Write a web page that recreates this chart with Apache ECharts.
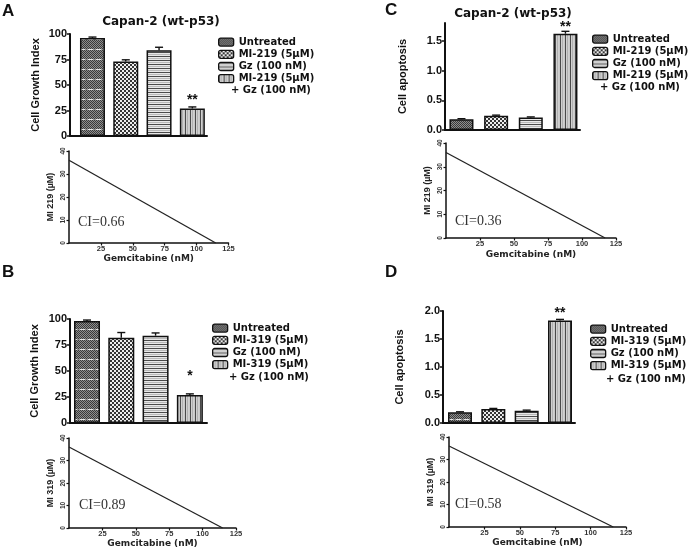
<!DOCTYPE html>
<html><head><meta charset="utf-8">
<script src="https://cdn.jsdelivr.net/npm/echarts@6/dist/echarts.min.js"></script>
<style>html,body{margin:0;padding:0;background:#fff}#c{width:689px;height:551px}</style>
</head><body><div id="c"></div>
<script>
// ---------------- data ----------------
const cellLine = 'Capan-2 (wt-p53)';
const panelLetters = ['A', 'B', 'C', 'D'];
const treatments219 = ['Untreated', 'MI-219 (5µM)', 'Gz (100 nM)', 'MI-219 (5µM) + Gz (100 nM)'];
const treatments319 = ['Untreated', 'MI-319 (5µM)', 'Gz (100 nM)', 'MI-319 (5µM) + Gz (100 nM)'];
const growthA = [96, 73, 84, 27];
const growthErrA = [1, 1.7, 3, 1.5];
const growthB = [98, 82, 84, 27];
const growthErrB = [1, 5, 2.6, 1];
const apoptosisC = [0.18, 0.24, 0.21, 1.62];
const apoptosisErrC = [0.01, 0.01, 0.01, 0.04];
const apoptosisD = [0.19, 0.25, 0.22, 1.83];
const apoptosisErrD = [0.01, 0.01, 0.01, 0.02];
const significance = ['**', '*', '**', '**'];
const gemcitabineA = [0, 115];  const mdm2iA = [36, 0];
const gemcitabineB = [0, 115];  const mdm2iB = [36, 0];
const gemcitabineC = [0, 117];  const mdm2iC = [36, 0];
const gemcitabineD = [0, 116];  const mdm2iD = [36, 0];
const ciValues = ['0.66', '0.89', '0.36', '0.58'];
const growthTicks = [0, 25, 50, 75, 100];
const apoptosisTicks = [0, 0.5, 1.0, 1.5];
const apoptosisTicksD = [0, 0.5, 1.0, 1.5, 2.0];
const gemTicks = [0, 25, 50, 75, 100, 125];
const doseTicks = [0, 10, 20, 30, 40];
const barYNames = ['Cell Growth Index', 'Cell Growth Index', 'Cell apoptosis', 'Cell apoptosis'];
const lineYNames = ['MI 219 (µM)', 'MI 319 (µM)', 'MI 219 (µM)', 'MI 319 (µM)'];
const lineXName = 'Gemcitabine (nM)';

// ---------------- patterns ----------------
function pattern(w, h, draw) {
  const c = document.createElement('canvas'); c.width = w; c.height = h;
  const g = c.getContext('2d'); draw(g); return { image: c, repeat: 'repeat' };
}
const patUntreated = pattern(8, 10, g => {
  g.fillStyle = '#8e8e8e'; g.fillRect(0, 0, 8, 10);
  g.fillStyle = '#3a3a3a';
  for (let y = 0; y < 9; y++) for (let x = 0; x < 8; x++) if ((x + y) % 2 === 0) g.fillRect(x, y, 1, 1);
  g.fillStyle = '#e6e6e6'; g.fillRect(0, 9, 5, 1);
});
const patMI = pattern(4, 4, g => {
  g.fillStyle = '#353535'; g.fillRect(0, 0, 4, 4);
  g.fillStyle = '#eeeeee'; g.fillRect(0, 0, 2, 2); g.fillRect(2, 2, 2, 2);
});
const patGz = pattern(1, 4, g => {
  const cols = ['#4a4a4a', '#e8e8e8', '#b8b8b8', '#e8e8e8'];
  cols.forEach((c, i) => { g.fillStyle = c; g.fillRect(0, i, 1, 1); });
});
const patCombo = pattern(5, 1, g => {
  const cols = ['#4a4a4a', '#d0d0d0', '#b0b0b0', '#d0d0d0', '#c8c8c8'];
  cols.forEach((c, i) => { g.fillStyle = c; g.fillRect(i, 0, 1, 1); });
});
const patterns = [patUntreated, patMI, patGz, patCombo];

// ---------------- layout ----------------
const FONT = 'Liberation Sans, Arial, sans-serif';
const WIDE = 'DejaVu Sans, Liberation Sans, sans-serif';
const SERIF = 'Liberation Serif, Times New Roman, serif';
const barPanels = [
  { names: treatments219, vals: growthA, errs: growthErrA, grid: { left: 70, top: 34, width: 137, height: 102 }, xr: [0.325, 4.44], ymax: 100, ticks: growthTicks, fmt: v => String(v), nameGap: 29, starDist: 1, barW: 25, legend: [218, 36], cont: [231, 90] },
  { names: treatments319, vals: growthB, errs: growthErrB, grid: { left: 70, top: 319, width: 137, height: 104 }, xr: [0.504, 4.5], ymax: 100, ticks: growthTicks, fmt: v => String(v), nameGap: 30, starDist: 12, barW: 26, legend: [212, 322], cont: [229, 377] },
  { names: treatments219, vals: apoptosisC, errs: apoptosisErrC, grid: { left: 445, top: 23, width: 135, height: 107 }, xr: [0.525, 4.42], ymax: 1.8, ticks: apoptosisTicks, fmt: v => v.toFixed(1), nameGap: 37, starDist: 0, barW: 24, legend: [592, 33], cont: [600, 87] },
  { names: treatments319, vals: apoptosisD, errs: apoptosisErrD, grid: { left: 443, top: 311, width: 132, height: 112 }, xr: [0.49, 4.45], ymax: 2.0, ticks: apoptosisTicksD, fmt: v => v.toFixed(1), nameGap: 38, starDist: 0, barW: 24, legend: [590, 323], cont: [606, 379] }
];
const linePanels = [
  { gem: gemcitabineA, dose: mdm2iA, grid: { left: 69, top: 151, width: 159.5, height: 92 }, ci: [78, 222], xGap: 10 },
  { gem: gemcitabineB, dose: mdm2iB, grid: { left: 69, top: 438, width: 167, height: 90 }, ci: [79, 505], xGap: 11 },
  { gem: gemcitabineC, dose: mdm2iC, grid: { left: 446, top: 143, width: 170, height: 95 }, ci: [455, 221], xGap: 12 },
  { gem: gemcitabineD, dose: mdm2iD, grid: { left: 449, top: 437, width: 177, height: 90 }, ci: [455, 504], xGap: 10 }
];

const grids = [], xAxes = [], yAxes = [], series = [], legends = [], graphics = [];
const axisLineStyle = w => ({ show: true, lineStyle: { color: '#111', width: w } });

barPanels.forEach((p, i) => {
  const gi = grids.length;
  grids.push(Object.assign({ containLabel: false }, p.grid));
  xAxes.push({ type: 'value', gridIndex: gi, min: p.xr[0], max: p.xr[1], axisLine: axisLineStyle(2), axisTick: { show: false }, axisLabel: { show: false }, splitLine: { show: false } });
  yAxes.push({ type: 'value', gridIndex: gi, min: 0, max: p.ymax, name: barYNames[i], nameLocation: 'middle', nameGap: p.nameGap,
    nameTextStyle: { fontFamily: FONT, fontSize: 11, fontWeight: 'bold', color: '#111' },
    axisLine: axisLineStyle(2), axisTick: { show: true, length: 3, lineStyle: { width: 1.5, color: '#111' }, customValues: p.ticks },
    axisLabel: { fontFamily: FONT, fontSize: 11, fontWeight: 'bold', color: '#111', margin: 3, customValues: p.ticks, formatter: p.fmt },
    splitLine: { show: false } });
  p.names.forEach((nm, k) => {
    const s = { type: 'bar', name: nm, xAxisIndex: gi, yAxisIndex: gi, barWidth: p.barW, barGap: '-100%',
      data: [[k + 1, p.vals[k]]], itemStyle: { color: patterns[k], borderColor: '#111', borderWidth: 1.5 }, z: 2 };
    if (k === 3) s.label = { show: true, position: 'top', distance: p.starDist, formatter: () => significance[i], fontFamily: FONT, fontSize: 14, fontWeight: 'bold', color: '#111' };
    series.push(s);
  });
  series.push({ type: 'custom', xAxisIndex: gi, yAxisIndex: gi, z: 3,
    data: p.vals.map((v, k) => [k + 1, v, p.errs[k]]),
    renderItem: (params, api) => {
      const x = api.value(0), v = api.value(1), e = api.value(2);
      const base = api.coord([x, v]), top = api.coord([x, v + e]);
      const st = { stroke: '#111', lineWidth: 1.4 };
      return { type: 'group', children: [
        { type: 'line', shape: { x1: base[0], y1: base[1], x2: top[0], y2: top[1] }, style: st },
        { type: 'line', shape: { x1: top[0] - 4, y1: top[1], x2: top[0] + 4, y2: top[1] }, style: st }
      ] };
    } });
  legends.push({ orient: 'vertical', left: p.legend[0], top: p.legend[1], padding: 0, itemWidth: 15, itemHeight: 8, itemGap: 0, icon: 'roundRect',
    selectedMode: false, data: p.names, formatter: n => n.split(' + ')[0],
    itemStyle: { borderColor: '#111', borderWidth: 1.3 },
    textStyle: { fontFamily: WIDE, fontSize: 10, fontWeight: 'bold', color: '#111', lineHeight: 12.2 } });
  graphics.push({ type: 'text', x: p.cont[0], y: p.cont[1], style: { text: '+ ' + p.names[3].split(' + ')[1], font: 'bold 10px ' + WIDE, fill: '#111', verticalAlign: 'middle' } });
});

linePanels.forEach((p, i) => {
  const gi = grids.length;
  grids.push(Object.assign({ containLabel: false }, p.grid));
  xAxes.push({ type: 'value', gridIndex: gi, min: 0, max: 125, interval: 25, name: lineXName, nameLocation: 'middle', nameGap: p.xGap,
    nameTextStyle: { fontFamily: WIDE, fontSize: 9, fontWeight: 'bold', color: '#222' },
    axisLine: axisLineStyle(1.5), axisTick: { show: true, length: 2.5, lineStyle: { color: '#111', width: 1.2 } },
    axisLabel: { fontFamily: FONT, fontSize: 7.5, fontWeight: 'bold', color: '#333', margin: 2, showMinLabel: false },
    splitLine: { show: false } });
  yAxes.push({ type: 'value', gridIndex: gi, min: 0, max: 40, interval: 10, name: lineYNames[i], nameLocation: 'middle', nameGap: 14,
    nameTextStyle: { fontFamily: FONT, fontSize: 9, fontWeight: 'bold', color: '#222' },
    axisLine: axisLineStyle(1.5), axisTick: { show: true, length: 2.5, lineStyle: { color: '#111', width: 1.2 } },
    axisLabel: { fontFamily: FONT, fontSize: 6.5, fontWeight: 'bold', color: '#333', margin: 2, rotate: 90 },
    splitLine: { show: false } });
  series.push({ type: 'line', xAxisIndex: gi, yAxisIndex: gi, showSymbol: false, silent: true,
    data: p.gem.map((g, k) => [g, p.dose[k]]), lineStyle: { color: '#222', width: 1.3 } });
  graphics.push({ type: 'text', x: p.ci[0], y: p.ci[1], style: { text: 'CI=' + ciValues[i], font: '14px ' + SERIF, fill: '#333', verticalAlign: 'middle' } });
});

// titles and panel letters
graphics.push({ type: 'text', x: 161, y: 22, style: { text: cellLine, font: 'bold 12px ' + WIDE, fill: '#111', align: 'center', verticalAlign: 'middle' } });
graphics.push({ type: 'text', x: 513, y: 14, style: { text: cellLine, font: 'bold 12px ' + WIDE, fill: '#111', align: 'center', verticalAlign: 'middle' } });
[[2, 11], [2, 272], [385, 10], [385, 272]].forEach((pos, i) => {
  graphics.push({ type: 'text', x: pos[0], y: pos[1], style: { text: panelLetters[i], font: 'bold 17px ' + FONT, fill: '#111', verticalAlign: 'middle' } });
});

const chart = echarts.init(document.getElementById('c'), null, { renderer: 'canvas' });
chart.setOption({ animation: false, backgroundColor: '#fff', grid: grids, xAxis: xAxes, yAxis: yAxes, series, legend: legends, graphic: graphics });
</script></body></html>
